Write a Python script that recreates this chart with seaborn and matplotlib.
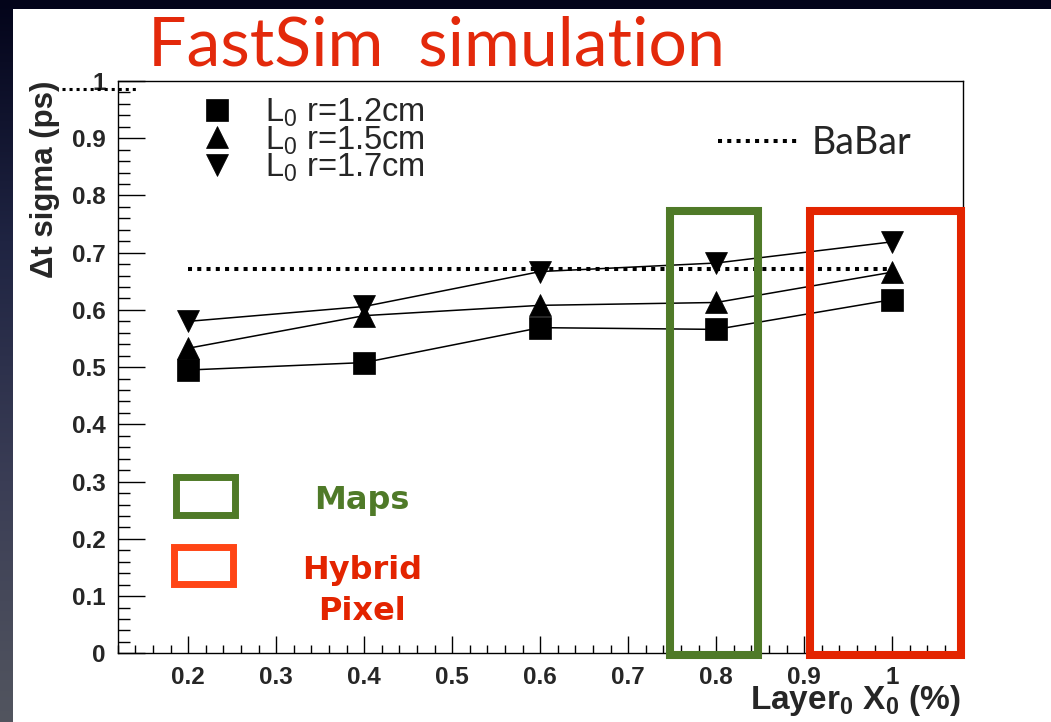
import numpy as np
import pandas as pd
import matplotlib
matplotlib.use("Agg")
import matplotlib.pyplot as plt
import seaborn as sns
from matplotlib.patches import Rectangle
from matplotlib.lines import Line2D
from matplotlib.ticker import MultipleLocator, FuncFormatter
from matplotlib.colors import LinearSegmentedColormap
from matplotlib.font_manager import FontProperties

# ---------------- data ----------------
layer_x0 = [0.2, 0.4, 0.6, 0.8, 1.0]
sigma_r12 = [0.495, 0.508, 0.569, 0.566, 0.618]
sigma_r15 = [0.533, 0.590, 0.608, 0.613, 0.666]
sigma_r17 = [0.580, 0.606, 0.667, 0.682, 0.719]
babar_sigma = 0.672
babar_range = [0.2, 1.0]
series_labels = [r"L$_\mathregular{0}$ r=1.2cm",
                 r"L$_\mathregular{0}$ r=1.5cm",
                 r"L$_\mathregular{0}$ r=1.7cm"]
series_markers = ["s", "^", "v"]

# annotation boxes (data coords: x0, x1, y0, y1)
maps_box = (0.748, 0.848, -0.003, 0.773)
hybrid_box = (0.906, 1.078, -0.003, 0.773)

GREEN = "#4f7a28"
RED = "#e32400"
ORANGE = "#ff4515"
TITLE_RED = "#e3290b"

sns.set_theme(style="ticks")
plt.rcParams["font.family"] = ["Liberation Sans", "DejaVu Sans"]
plt.rcParams["mathtext.fontset"] = "custom"
plt.rcParams["mathtext.rm"] = "Liberation Sans"

W, H = 1051, 722
fig = plt.figure(figsize=(W / 100, H / 100), dpi=100)

# ---------------- background ----------------
bg = fig.add_axes([0, 0, 1, 1], zorder=-10)
cmap = LinearSegmentedColormap.from_list("bg", ["#03041a", "#1f2442", "#3a3d55", "#52555f"])
grad = np.linspace(0, 1, 256).reshape(-1, 1)
bg.imshow(grad, extent=[0, 1, 0, 1], aspect="auto", cmap=cmap, origin="upper")
bg.add_patch(Rectangle((13 / W, 0), 1, 1 - 9 / H, transform=bg.transAxes,
                       facecolor="white", edgecolor="none"))
bg.set_xlim(0, 1); bg.set_ylim(0, 1)
bg.axis("off")

# ---------------- main axes ----------------
ax = fig.add_axes([117.7 / W, 1 - 653.3 / H, 845 / W, 572.3 / H])
ax.set_facecolor("none")

df = pd.DataFrame({
    "x": layer_x0 * 3,
    "y": sigma_r12 + sigma_r15 + sigma_r17,
    "series": [series_labels[0]] * 5 + [series_labels[1]] * 5 + [series_labels[2]] * 5,
})
sns.lineplot(data=df, x="x", y="y", hue="series", style="series",
             markers=series_markers, dashes=False, palette=["black"] * 3,
             markersize=16.5, markeredgewidth=0.5, markeredgecolor="black",
             linewidth=1.1, legend=False, sort=False, ax=ax, zorder=3)

dot_style = (0, (1.0, 1.3))
ax.plot(babar_range, [babar_sigma, babar_sigma], color="black", lw=2.9,
        linestyle=dot_style, dash_capstyle="butt", zorder=2)

ax.set_xlim(0.12, 1.08)
ax.set_ylim(0, 1)
ax.xaxis.set_major_locator(MultipleLocator(0.1))
ax.xaxis.set_minor_locator(MultipleLocator(0.02))
ax.yaxis.set_major_locator(MultipleLocator(0.1))
ax.yaxis.set_minor_locator(MultipleLocator(0.02))
fmt = FuncFormatter(lambda v, p: f"{round(v, 3):g}")
ax.xaxis.set_major_formatter(fmt)
ax.yaxis.set_major_formatter(fmt)

ax.tick_params(axis="both", which="both", direction="in", top=False, right=False,
               color="black", width=1.0)
ax.tick_params(axis="y", which="major", length=19.4, pad=8.6, labelsize=17.5)
ax.tick_params(axis="y", which="minor", length=8.9)
ax.tick_params(axis="x", which="major", length=12.2, pad=9.5, labelsize=17.5)
ax.tick_params(axis="x", which="minor", length=6)
for lab in ax.get_xticklabels() + ax.get_yticklabels():
    lab.set_fontweight("bold")
for s in ax.spines.values():
    s.set_color("black")
    s.set_linewidth(1.0)

ax.set_ylabel("Δt sigma (ps)", fontsize=22.5, fontweight="bold", loc="top")
ax.yaxis.set_label_coords(-0.068, 1.0)
ax.set_xlabel(r"Layer$_\mathregular{0}$ X$_\mathregular{0}$ (%)", fontsize=24,
              fontweight="bold", loc="right")
ax.xaxis.set_label_coords(0.998, -0.052)

# ---------------- highlight boxes ----------------
for (x0, x1, y0, y1), col in [(maps_box, GREEN), (hybrid_box, RED)]:
    ax.add_patch(Rectangle((x0, y0), x1 - x0, y1 - y0, fill=False, edgecolor=col,
                           lw=5.8, clip_on=False, zorder=6, joinstyle="miter"))

# small key boxes and labels
ax.add_patch(Rectangle((0.1858, 0.2420), 0.0671, 0.0652, fill=False, edgecolor=GREEN,
                       lw=5.0, zorder=6, joinstyle="miter"))
ax.add_patch(Rectangle((0.1843, 0.1214), 0.0668, 0.0647, fill=False, edgecolor=ORANGE,
                       lw=5.0, zorder=6, joinstyle="miter"))
ax.text(0.3975, 0.2516, "Maps", color=GREEN, fontsize=23, fontweight="bold",
        family="DejaVu Sans", ha="center", va="baseline")
ax.text(0.3975, 0.1298, "Hybrid", color=RED, fontsize=23, fontweight="bold",
        family="DejaVu Sans", ha="center", va="baseline")
ax.text(0.3975, 0.0582, "Pixel", color=RED, fontsize=23, fontweight="bold",
        family="DejaVu Sans", ha="center", va="baseline")

# ---------------- legends ----------------
handles = [Line2D([], [], marker=m, linestyle="none", color="black",
                  markersize=16.5, markeredgewidth=0.5) for m in series_markers]
leg1 = ax.legend(handles, series_labels, loc="upper left",
                 bbox_to_anchor=(201.7 / W, 1 - 96 / H), bbox_transform=fig.transFigure,
                 frameon=False, prop=FontProperties(family="Liberation Sans", size=23.5),
                 handlelength=0.95, handletextpad=1.0, labelspacing=-0.15,
                 borderpad=0, borderaxespad=0)
ax.add_artist(leg1)

bab_handle = Line2D([], [], color="black", lw=2.9, linestyle=dot_style, dash_capstyle="butt")
ax.legend([bab_handle], ["BaBar"], loc="upper left",
          bbox_to_anchor=(718 / W, 1 - 125 / H), bbox_transform=fig.transFigure,
          frameon=False, prop=FontProperties(family="Lato", size=27),
          handlelength=2.1, handletextpad=0.4, borderpad=0, borderaxespad=0)

# ---------------- title and artefact ----------------
fig.text(148 / W, 1 - 66 / H, "FastSim  simulation", family="Lato", fontsize=49,
         color=TITLE_RED, ha="left", va="baseline")
fig.add_artist(Line2D([62 / W, 137 / W], [1 - 88.5 / H, 1 - 88.5 / H],
                      transform=fig.transFigure, color="black", lw=2.2,
                      linestyle=(0, (1.0, 1.3)), dash_capstyle="butt"))

fig.savefig("out.png", dpi=100)
